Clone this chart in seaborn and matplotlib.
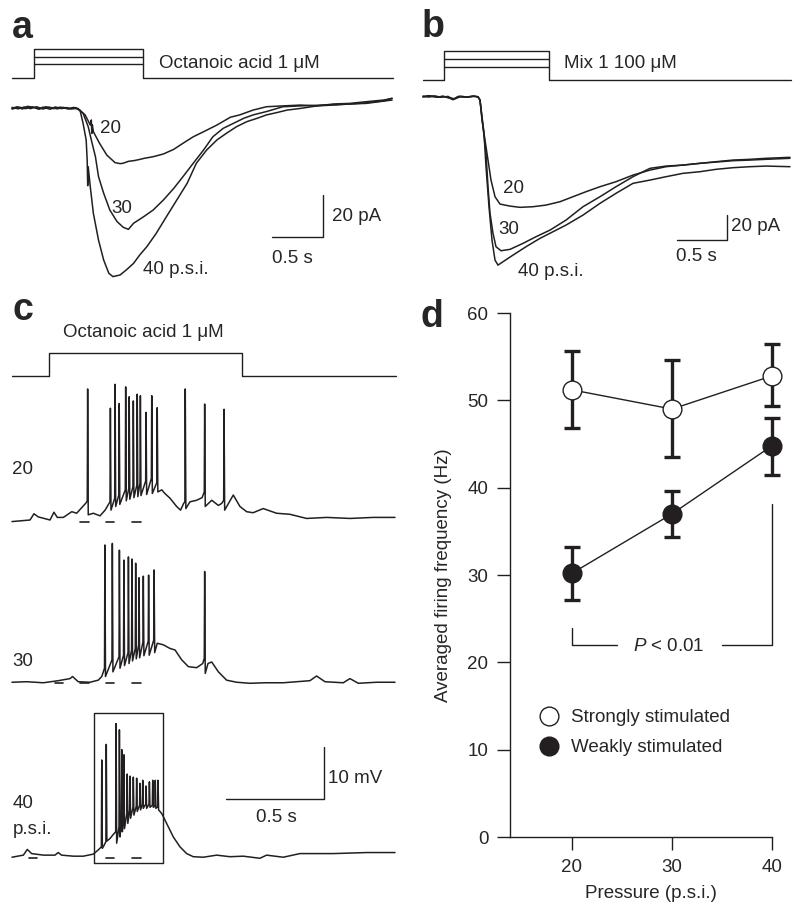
import numpy as np
import pandas as pd
import seaborn as sns
import matplotlib
matplotlib.use('Agg')
import matplotlib.pyplot as plt
from matplotlib.lines import Line2D

INK = '#231f20'

# ---- panel a: currents (s, pA) ----
a20_t = [0.00, 0.05, 0.10, 0.15, 0.21, 0.26, 0.30, 0.37, 0.42, 0.48, 0.53, 0.58, 0.64, 0.71, 0.76, 0.77, 0.775, 0.78, 0.79,
         0.85, 0.92, 1.00, 1.05, 1.08, 1.13, 1.18, 1.24, 1.28, 1.37, 1.47, 1.57, 1.66, 1.76, 1.86, 1.99, 2.12, 2.21,
         2.34, 2.47, 2.63, 2.80, 2.96, 3.12, 3.28, 3.44, 3.61, 3.69]
a20_i = [-0.2, 0.6, -0.5, 0.8, 0.3, -0.6, 0.4, -0.6, 0.5, -0.3, 0.2, -0.4, -0.2, -3.3, -8.1, -5.7, -12.1, -8.0, -11.3,
         -16.8, -22.4, -26.0, -26.5, -26.3, -25.4, -25.1, -24.5, -24.0, -23.2, -21.9, -19.7, -16.8, -13.7, -11.3, -8.1, -4.4, -3.3,
         -1.0, 0.6, 1.0, 1.4, 1.0, 1.9, 2.2, 3.0, 3.8, 4.6]
a30_t = [0.00, 0.06, 0.12, 0.18, 0.24, 0.30, 0.36, 0.44, 0.50, 0.56, 0.62, 0.69, 0.74, 0.77, 0.81, 0.84, 0.89, 0.95,
         1.02, 1.08, 1.13, 1.18, 1.28, 1.37, 1.47, 1.57, 1.66, 1.76, 1.86, 1.95, 2.05, 2.15, 2.25, 2.34, 2.47, 2.63,
         2.80, 3.12, 3.44, 3.69]
a30_i = [0.3, -0.4, 0.5, -0.3, 0.6, -0.5, 0.4, -0.4, 0.3, -0.5, 0.2, -2.5, -8.9, -15.2, -23.2, -32.7, -40.6, -48.6,
         -54.1, -56.8, -57.8, -54.9, -51.7, -48.6, -43.8, -38.3, -32.7, -26.3, -20.0, -13.7, -9.7, -7.3, -4.9, -3.3, -1.7, 0.6,
         1.0, 1.6, 2.2, 3.8]
a40_t = [0.00, 0.07, 0.13, 0.20, 0.27, 0.33, 0.40, 0.47, 0.54, 0.60, 0.66, 0.69, 0.72, 0.73, 0.735, 0.74, 0.76, 0.79,
         0.84, 0.89, 0.94, 0.98, 1.05, 1.11, 1.18, 1.24, 1.31, 1.40, 1.50, 1.60, 1.70, 1.79, 1.89, 1.99, 2.08, 2.18,
         2.28, 2.38, 2.47, 2.57, 2.67, 2.80, 2.96, 3.12, 3.28, 3.44, 3.61, 3.69]
a40_i = [-0.5, 0.4, -0.3, 0.5, -0.4, 0.6, -0.3, 0.4, -0.4, 0.3, -1.0, -7.3, -15.2, -24.8, -37.0, -28.0, -37.5, -50.2,
         -62.9, -72.4, -78.7, -80.3, -79.5, -77.1, -74.0, -70.0, -66.0, -59.7, -51.7, -43.8, -35.9, -26.3, -20.0, -15.2, -12.1, -8.9,
         -6.5, -4.9, -3.3, -2.2, -1.0, -0.2, 1.0, 1.4, 1.9, 2.5, 3.4, 4.6]

# ---- panel b: currents (s, pA) ----
b20_t = [0.00, 0.05, 0.10, 0.15, 0.20, 0.27, 0.30, 0.35, 0.43, 0.50, 0.55, 0.57, 0.59, 0.62, 0.65, 0.68, 0.72, 0.77,
         0.87, 0.97, 1.10, 1.23, 1.37, 1.50, 1.63, 1.77, 1.93, 2.10, 2.27, 2.43, 2.60, 2.77, 2.93, 3.10, 3.27, 3.43, 3.67]
b20_i = [0.0, 0.8, 0.5, -0.5, 0.3, -1.3, -2.5, 0.0, -0.5, 0.5, 0.0, -2.7, -18.7, -34.7, -50.7, -66.7, -80.0, -85.9,
         -87.5, -88.5, -88.0, -86.7, -84.0, -80.0, -76.0, -72.0, -68.0, -62.7, -58.7, -56.0, -54.7, -53.3, -52.0, -50.7, -50.1, -49.3, -48.5]
b30_t = [0.00, 0.06, 0.12, 0.18, 0.25, 0.30, 0.36, 0.44, 0.50, 0.55, 0.57, 0.60, 0.63, 0.65, 0.67, 0.70, 0.73, 0.78,
         0.87, 1.00, 1.13, 1.27, 1.43, 1.60, 1.77, 1.93, 2.10, 2.27, 2.43, 2.60, 2.77, 2.93, 3.10, 3.27, 3.43, 3.67]
b30_i = [0.5, -0.3, 0.6, -0.5, 0.2, -2.0, 0.4, -0.3, 0.4, -0.2, -2.7, -24.0, -45.3, -72.0, -93.3, -109.3, -120.0, -123.2,
         -122.1, -117.3, -112.0, -106.7, -98.7, -88.0, -80.0, -72.0, -64.0, -57.3, -55.5, -54.7, -53.3, -52.3, -51.2, -50.7, -50.1, -49.3]
b40_t = [0.00, 0.07, 0.13, 0.20, 0.27, 0.32, 0.38, 0.45, 0.52, 0.55, 0.57, 0.61, 0.63, 0.66, 0.69, 0.72, 0.75, 0.80,
         0.90, 1.03, 1.17, 1.30, 1.43, 1.60, 1.77, 1.93, 2.10, 2.27, 2.43, 2.60, 2.77, 2.93, 3.10, 3.27, 3.43, 3.67]
b40_i = [-0.3, 0.4, -0.4, 0.3, -1.0, -1.8, 0.2, -0.4, 0.3, -0.3, -2.7, -29.3, -56.0, -88.0, -114.7, -130.7, -134.7, -132.0,
         -126.7, -120.0, -113.3, -108.0, -102.7, -94.7, -85.3, -77.3, -69.3, -66.7, -64.0, -61.3, -60.0, -58.1, -56.8, -56.0, -55.5, -56.0]

# ---- panel c: membrane potential (s, mV above rest) ----
c20_env_t = [0.000, 0.092, 0.112, 0.134, 0.194, 0.214, 0.231, 0.262, 0.305, 0.330, 0.361, 0.378, 0.415, 0.449, 0.475,
             0.764, 0.780, 0.806, 0.840, 0.860, 0.876, 0.908, 0.942, 0.970, 1.019, 1.053, 1.070, 1.129, 1.163, 1.197,
             1.230, 1.282, 1.350, 1.418, 1.503, 1.606, 1.724, 1.844, 1.954]
c20_env_v = [-0.3, 0.0, 1.2, 0.6, 0.0, 1.5, 0.5, 0.5, 1.6, 1.3, 2.6, 3.3, 1.3, 0.8, 1.9,
             5.8, 5.1, 4.2, 2.6, 1.9, 3.2, 3.5, 3.8, 4.3, 3.8, 2.8, 3.2, 4.8, 2.6, 1.6,
             1.4, 2.2, 1.3, 1.1, 0.3, 0.5, 0.3, 0.5, 0.5]
c20_sp_t = [0.386, 0.502, 0.526, 0.547, 0.580, 0.598, 0.619, 0.639, 0.655, 0.684, 0.713, 0.741, 0.884, 0.983, 1.082]
c20_sp_on = [3.7, 3.5, 4.2, 4.8, 5.8, 6.1, 6.4, 6.7, 7.1, 7.5, 8.0, 7.2, 3.5, 5.4, 3.8]
c20_sp_pk = [25.2, 21.5, 26.1, 22.4, 25.6, 23.7, 22.9, 24.2, 23.9, 20.7, 23.9, 21.6, 25.2, 22.3, 21.3]
c20_sp_tr = [1.0, 1.9, 2.6, 3.0, 3.7, 4.0, 4.3, 4.5, 4.7, 4.9, 5.1, 5.4, 2.2, 2.6, 1.9]

c30_env_t = [0.000, 0.075, 0.160, 0.236, 0.296, 0.309, 0.338, 0.398, 0.440, 0.458,
             0.741, 0.772, 0.806, 0.832, 0.866, 0.900, 0.942, 0.973, 1.000, 1.019, 1.053, 1.095, 1.146, 1.214,
             1.290, 1.384, 1.520, 1.554, 1.597, 1.690, 1.724, 1.767, 1.860, 1.954]
c30_env_v = [-0.1, 0.0, -0.2, 0.2, 0.6, 1.0, 0.0, -0.1, 0.3, 1.0,
             7.4, 7.1, 6.4, 6.1, 4.2, 2.9, 2.7, 3.5, 3.5, 3.8, 1.9, 0.3, -0.1, -0.3,
             -0.2, -0.2, 0.2, 1.1, 0.0, -0.2, 0.6, -0.3, -0.1, -0.1]
c30_sp_t = [0.474, 0.512, 0.548, 0.571, 0.594, 0.612, 0.631, 0.648, 0.670, 0.697, 0.725, 0.983]
c30_sp_on = [2.6, 4.2, 4.8, 5.1, 5.6, 6.1, 6.4, 7.1, 7.6, 7.8, 8.0, 4.5]
c30_sp_pk = [26.3, 26.6, 25.3, 23.4, 24.0, 23.6, 22.8, 20.0, 20.3, 20.5, 21.5, 21.2]
c30_sp_tr = [1.0, 1.9, 2.6, 3.1, 3.5, 4.0, 4.4, 4.6, 5.0, 5.1, 5.6, 1.6]

c40_env_t = [0.000, 0.058, 0.078, 0.100, 0.160, 0.219, 0.236, 0.253, 0.313, 0.364, 0.415, 0.440, 0.470, 0.500, 0.515,
             0.764, 0.789, 0.823, 0.857, 0.891, 0.925, 0.976, 1.044, 1.112, 1.180, 1.265, 1.299, 1.384, 1.469,
             1.639, 1.810, 1.954]
c40_env_v = [-0.1, 0.3, 1.4, 0.6, 0.3, 0.3, 0.8, 0.3, 0.1, 0.1, 0.5, 1.3, 2.2, 3.5, 4.2,
             8.3, 6.4, 3.8, 1.9, 0.6, 0.0, -0.1, 0.3, 0.0, 0.1, -0.3, 0.3, -0.1, 0.6,
             0.6, 0.8, 0.8]
c40_sp_t = [0.458, 0.481, 0.531, 0.548, 0.560, 0.571, 0.588, 0.602, 0.619, 0.636, 0.653, 0.667, 0.684, 0.701, 0.718, 0.731, 0.745]
c40_sp_on = [1.9, 2.9, 4.8, 5.8, 6.7, 7.4, 8.3, 9.0, 9.5, 9.7, 9.9, 10.1, 10.1, 10.1, 9.9, 9.7, 9.6]
c40_sp_pk = [18.6, 21.6, 25.6, 24.4, 20.6, 19.6, 15.9, 15.5, 15.3, 15.1, 14.1, 14.7, 13.6, 14.4, 14.7, 14.7, 14.7]
c40_sp_tr = [1.6, 3.0, 2.6, 3.8, 4.8, 5.4, 6.4, 7.4, 8.0, 8.7, 9.0, 9.3, 9.3, 9.5, 9.5, 9.3, 9.0]

# ---- panel d ----
pressure = [20, 30, 40]
strong_mean = [51.2, 49.0, 52.8]
strong_lo = [46.8, 43.5, 49.3]
strong_hi = [55.6, 54.6, 56.4]
weak_mean = [30.2, 37.0, 44.8]
weak_lo = [27.1, 34.4, 41.5]
weak_hi = [33.2, 39.6, 48.0]

sns.set_style('ticks')
plt.rcParams['font.family'] = ['Liberation Sans', 'DejaVu Sans']
plt.rcParams['mathtext.fontset'] = 'custom'
plt.rcParams['mathtext.rm'] = 'Liberation Sans'
plt.rcParams['mathtext.it'] = 'Liberation Sans:italic'
FS = 13.5

fig = plt.figure(figsize=(8, 9.07), dpi=100)


def draw_trace(ax, t, v, lw=1.1):
    sns.lineplot(x=t, y=v, ax=ax, color=INK, lw=lw, estimator=None, sort=False, legend=False)


def spike_trace(env_t, env_v, sp_t, sp_on, sp_pk, sp_tr, offset):
    t = list(env_t)
    v = list(env_v)
    for ti, on, pk, tr in zip(sp_t, sp_on, sp_pk, sp_tr):
        t += [ti - 0.002, ti, ti + 0.003]
        v += [on, pk, tr]
    df = pd.DataFrame({'t': t, 'v': np.array(v) + offset}).sort_values('t')
    return df


def stimulus(ax, t_on, t_off, t_end, base, levels):
    ax.plot([0, t_on, t_on, t_off, t_off, t_end], [base, base, levels[0], levels[0], base, base],
            color=INK, lw=1.0)
    for lv in levels[1:]:
        ax.plot([t_on, t_off], [lv, lv], color=INK, lw=1.0)


def scale_bar(ax, t0, t1, y0, y1):
    ax.plot([t0, t1, t1], [y0, y0, y1], color=INK, lw=1.0)


# ---------- panel a ----------
ax_a = fig.add_axes([0, 1 - 290 / 907, 0.5, 290 / 907])
ax_a.set_xlim(-0.1165, 3.767)
ax_a.set_ylim(-86.67, 51.43)
ax_a.set_axis_off()
stimulus(ax_a, 0.214, 1.27, 3.70, 14.1, [28.1, 24.4, 20.8])
for t, i in [(a20_t, a20_i), (a30_t, a30_i), (a40_t, a40_i)]:
    draw_trace(ax_a, t, i)
scale_bar(ax_a, 2.52, 3.02, -61.6, -41.6)
ax_a.text(1.43, 21.3, 'Octanoic acid 1 μM', fontsize=FS, va='center', ha='left')
ax_a.text(0.854, -10.0, '20', fontsize=FS, va='center', ha='left')
ax_a.text(0.968, -47.8, '30', fontsize=FS, va='center', ha='left')
ax_a.text(1.269, -76.7, '40 p.s.i.', fontsize=FS, va='center', ha='left')
ax_a.text(3.104, -51.8, '20 pA', fontsize=FS, va='center', ha='left')
ax_a.text(2.721, -71.6, '0.5 s', fontsize=FS, va='center', ha='center')

# ---------- panel b ----------
ax_b = fig.add_axes([0.5, 1 - 290 / 907, 0.5, 290 / 907])
ax_b.set_xlim(-0.23, 3.77)
ax_b.set_ylim(-154.6, 77.3)
ax_b.set_axis_off()
stimulus(ax_b, 0.21, 1.26, 3.68, 13.4, [36.6, 30.2, 24.0])
for t, i in [(b20_t, b20_i), (b30_t, b30_i), (b40_t, b40_i)]:
    draw_trace(ax_b, t, i)
scale_bar(ax_b, 2.54, 3.04, -114.6, -94.6)
ax_b.text(1.41, 26.7, 'Mix 1 100 μM', fontsize=FS, va='center', ha='left')
ax_b.text(0.803, -73.3, '20', fontsize=FS, va='center', ha='left')
ax_b.text(0.753, -106.6, '30', fontsize=FS, va='center', ha='left')
ax_b.text(0.953, -140.0, '40 p.s.i.', fontsize=FS, va='center', ha='left')
ax_b.text(3.08, -104.0, '20 pA', fontsize=FS, va='center', ha='left')
ax_b.text(2.733, -128.0, '0.5 s', fontsize=FS, va='center', ha='center')

# ---------- panel c ----------
ax_c = fig.add_axes([0, 1 - 880 / 907, 0.5, 580 / 907])
ax_c.set_xlim(-0.0612, 1.9796)
ax_c.set_ylim(-4.48, 107.06)
ax_c.set_axis_off()
stimulus(ax_c, 0.189, 1.172, 1.959, 92.4, [96.9])
offsets = {'20': 64.75, '30': 33.65, '40': 0.0}
traces = [(c20_env_t, c20_env_v, c20_sp_t, c20_sp_on, c20_sp_pk, c20_sp_tr, offsets['20']),
          (c30_env_t, c30_env_v, c30_sp_t, c30_sp_on, c30_sp_pk, c30_sp_tr, offsets['30']),
          (c40_env_t, c40_env_v, c40_sp_t, c40_sp_on, c40_sp_pk, c40_sp_tr, offsets['40'])]
for tr in traces:
    df = spike_trace(*tr)
    draw_trace(ax_c, df['t'], df['v'], lw=1.1)

# small dashes below each trace
dash_sets = {'20': [(0.347, 0.393), (0.480, 0.520), (0.612, 0.658)],
             '30': [(0.219, 0.260), (0.347, 0.393), (0.480, 0.520), (0.612, 0.658)],
             '40': [(0.087, 0.128), (0.480, 0.520), (0.612, 0.658)]}
for key, segs in dash_sets.items():
    for s0, s1 in segs:
        ax_c.plot([s0, s1], [offsets[key] - 0.3, offsets[key] - 0.3], color=INK, lw=1.2)

# box around the 40 p.s.i. burst
ax_c.plot([0.42, 0.769, 0.769, 0.42, 0.42], [-1.15, -1.15, 27.7, 27.7, -1.15], color=INK, lw=1.0)
scale_bar(ax_c, 1.092, 1.592, 11.04, 21.04)
ax_c.text(0.672, 100.8, 'Octanoic acid 1 μM', fontsize=FS, va='center', ha='center')
ax_c.text(0.0, 74.4, '20', fontsize=FS, va='center', ha='left')
ax_c.text(0.0, 37.5, '30', fontsize=FS, va='center', ha='left')
ax_c.text(0.003, 10.3, '40', fontsize=FS, va='center', ha='left')
ax_c.text(0.003, 5.3, 'p.s.i.', fontsize=FS, va='center', ha='left')
ax_c.text(1.612, 15.1, '10 mV', fontsize=FS, va='center', ha='left')
ax_c.text(1.347, 7.5, '0.5 s', fontsize=FS, va='center', ha='center')

# ---------- panel d ----------
ax_d = fig.add_axes([510 / 800, 1 - 837 / 907, 282 / 800, 524 / 907])
ax_d.set_xlim(13.8, 42)
ax_d.set_ylim(0, 60)

for mean, lo, hi, face in [(strong_mean, strong_lo, strong_hi, 'white'),
                           (weak_mean, weak_lo, weak_hi, INK)]:
    m = np.array(mean)
    yerr = [m - np.array(lo), np.array(hi) - m]
    ax_d.errorbar(pressure, mean, yerr=yerr, fmt='none', ecolor=INK, elinewidth=2.4,
                  capsize=5.5, capthick=2.4, zorder=2)
    sns.lineplot(x=pressure, y=mean, ax=ax_d, color=INK, lw=1.0, marker='o', markersize=13.5,
                 markerfacecolor=face, markeredgecolor=INK, markeredgewidth=1.0,
                 estimator=None, legend=False, zorder=3)

# significance bracket
ax_d.plot([20, 20, 24.5], [23.9, 22.0, 22.0], color=INK, lw=1.0)
ax_d.plot([35.0, 40, 40], [22.0, 22.0, 38.1], color=INK, lw=1.0)
ax_d.text(29.7, 21.8, r'$P$ < 0.01', fontsize=FS, ha='center', va='center')

handles = [Line2D([], [], ls='none', marker='o', markersize=13.5, markerfacecolor='white',
                  markeredgecolor=INK, markeredgewidth=1.0),
           Line2D([], [], ls='none', marker='o', markersize=13.5, markerfacecolor=INK,
                  markeredgecolor=INK, markeredgewidth=1.0)]
ax_d.legend(handles, ['Strongly stimulated', 'Weakly stimulated'], loc='center left',
            bbox_to_anchor=(30 / 282, 0.199), frameon=False, fontsize=FS, handlelength=1.0,
            handletextpad=0.65, borderpad=0, borderaxespad=0, labelspacing=0.7)

sns.despine(ax=ax_d)
ax_d.spines['bottom'].set_bounds(13.8, 40)
ax_d.set_xticks(pressure)
ax_d.set_yticks(range(0, 61, 10))
ax_d.tick_params(direction='out', length=9.5, width=1.0, color=INK, labelsize=FS, pad=6)
for side in ['left', 'bottom']:
    ax_d.spines[side].set_linewidth(1.0)
    ax_d.spines[side].set_color(INK)
ax_d.set_xlabel('Pressure (p.s.i.)', fontsize=FS, labelpad=7)
ax_d.set_ylabel('Averaged firing frequency (Hz)', fontsize=FS, labelpad=11)

# panel letters
for letter, px, py in [('a', 12, 38), ('b', 422, 37), ('c', 12, 320), ('d', 420, 327)]:
    fig.text(px / 800, 1 - py / 907, letter, fontsize=27, fontweight='bold', ha='left', va='baseline')

fig.savefig('out.png', dpi=100)
